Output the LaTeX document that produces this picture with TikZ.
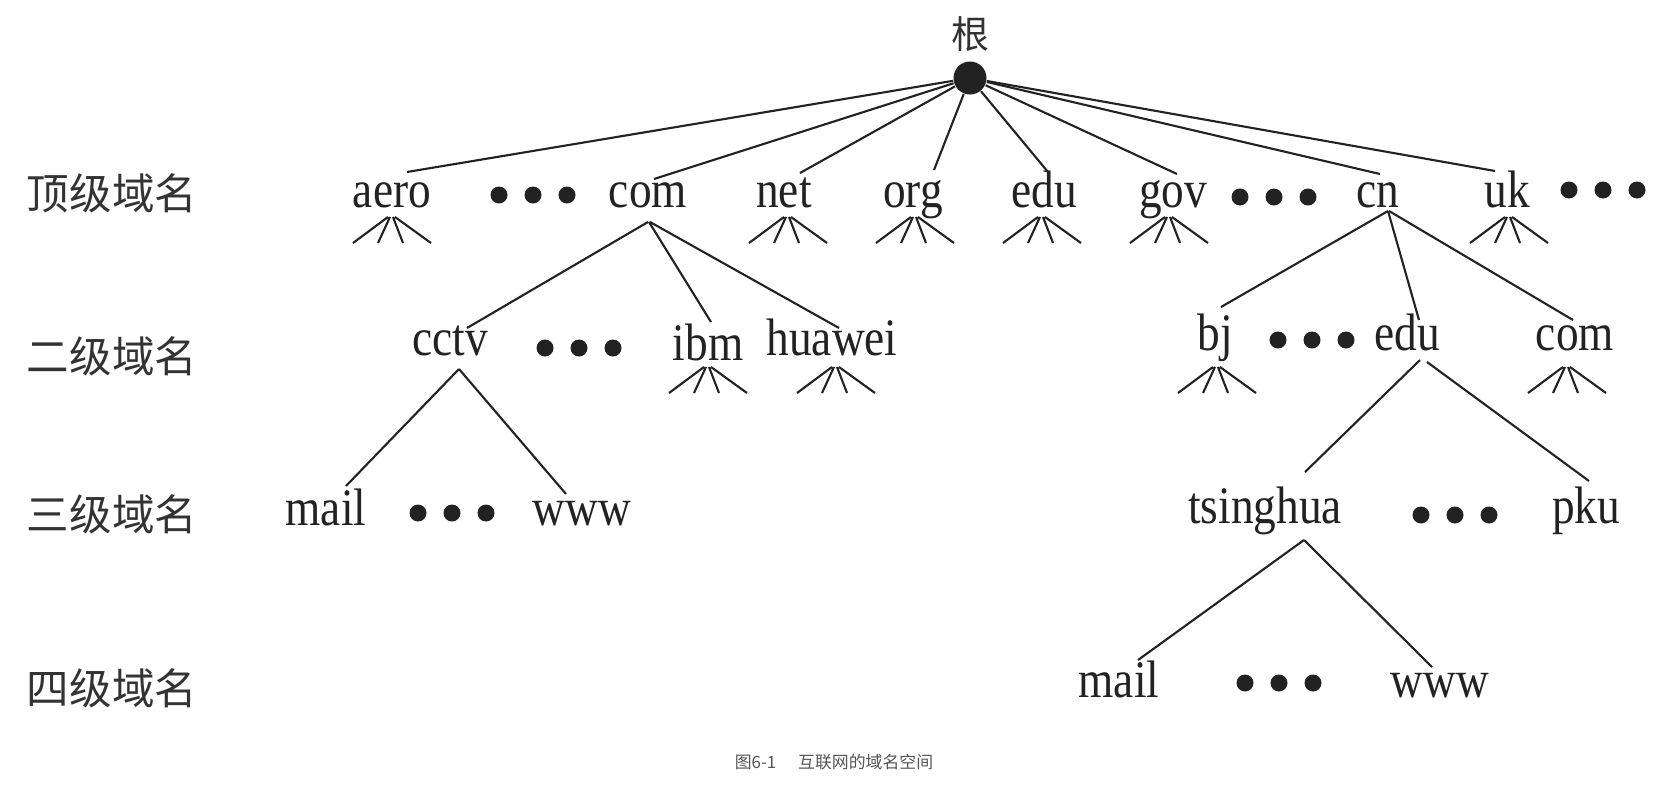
\documentclass[tikz,border=0pt]{standalone}
\usepackage{fontspec}
\usetikzlibrary{calc}
\newfontfamily\domfont[FakeStretch=0.86]{Liberation Serif}
\newfontfamily\cjkfont{Noto Sans CJK SC}
\definecolor{ink}{HTML}{222222}
\definecolor{lvlgray}{HTML}{333333}
\definecolor{capgray}{HTML}{555555}

\tikzset{
  dom/.style={font=\domfont\fontsize{15pt}{17pt}\selectfont, text=ink, inner sep=0pt, anchor=base},
  lvl/.style={font=\cjkfont\fontsize{12.1pt}{14pt}\selectfont, text=lvlgray, inner sep=0pt},
  link/.style={draw=ink, line width=0.6pt},
  fan/.pic={\draw[link] (-3,0) -- (-38,26) (-1,0) -- (-13,26) (2,0) -- (12,26) (4,0) -- (40,26);},
  ellip/.pic={\foreach \dx in {-34,0,34} \fill[ink] (\dx,0) circle[radius=0.85mm];},
}

\begin{document}
\begin{tikzpicture}[x=0.1mm, y=-0.1mm]
    \useasboundingbox (0,0) rectangle (1678,787);

    % Root
    \node[font=\cjkfont\fontsize{10.8pt}{12pt}\selectfont, text=lvlgray, inner sep=0pt] (rootlbl) at (970,34) {根};
    \node[circle, fill=ink, minimum size=3.3mm, inner sep=0pt] (root) at (970,78) {};

    % Level names on the left
    \node[lvl] (lv1) at (112,193) {顶级域名};
    \node[lvl] (lv2) at (112,356) {二级域名};
    \node[lvl] (lv3) at (112,514) {三级域名};
    \node[lvl] (lv4) at (112,688) {四级域名};

    % Top level domains
    \node[dom] (aero) at (392,207) {aero};
    \node[dom] (com) at (648,207) {com};
    \node[dom] (net) at (784,207) {net};
    \node[dom] (org) at (913,207) {org};
    \node[dom] (edu) at (1044,207) {edu};
    \node[dom] (gov) at (1173,207) {gov};
    \node[dom] (cn) at (1378,207) {cn};
    \node[dom] (uk) at (1507,207) {uk};
    \pic at (533,195) {ellip};
    \pic at (1274,197) {ellip};
    \pic at (1603,190) {ellip};

    % Second level domains
    \node[dom] (cctv) at (450,355) {cctv};
    \node[dom] (ibm) at (708,360) {ibm};
    \node[dom] (huawei) at (832,355) {huawei};
    \node[dom] (bj) at (1215,350) {bj};
    \node[dom] (cnedu) at (1407,350) {edu};
    \node[dom] (cncom) at (1575,350) {com};
    \pic at (579,348) {ellip};
    \pic at (1312,340) {ellip};

    % Third level domains
    \node[dom] (mail) at (326,525) {mail};
    \node[dom] (www) at (582,525) {www};
    \node[dom] (tsinghua) at (1265,523) {tsinghua};
    \node[dom] (pku) at (1586,523) {pku};
    \pic at (452,513) {ellip};
    \pic at (1455,515) {ellip};

    % Fourth level domains
    \node[dom] (thmail) at (1119,697) {mail};
    \node[dom] (thwww) at (1440,697) {www};
    \pic at (1279,683) {ellip};

    % Links from the root
    \draw[link] (root) -- ($(aero.base)+(15,-35)$);
    \draw[link] (root) -- ($(com.base)+(6,-28)$);
    \draw[link] (root) -- ($(net.base)+(16,-34)$);
    \draw[link] (root) -- ($(org.base)+(21,-37)$);
    \draw[link] (root) -- ($(edu.base)+(4,-35)$);
    \draw[link] (root) -- ($(gov.base)+(4,-33)$);
    \draw[link] (root) -- ($(cn.base)+(2,-33)$);
    \draw[link] (root) -- ($(uk.base)+(-12,-36)$);

    % Links below com and cn
    \draw[link] ($(com.base)+(0,15)$) -- ($(cctv.base)+(17,-27)$);
    \draw[link] ($(com.base)+(1,15)$) -- ($(ibm.base)+(3,-38)$);
    \draw[link] ($(com.base)+(2,15)$) -- ($(huawei.base)+(7,-27)$);
    \draw[link] ($(cn.base)+(10,4)$) -- ($(bj.base)+(6,-43)$);
    \draw[link] ($(cn.base)+(10,4)$) -- ($(cnedu.base)+(12,-30)$);
    \draw[link] ($(cn.base)+(11,4)$) -- ($(cncom.base)+(-2,-30)$);

    % Links to the third and fourth level
    \draw[link] ($(cctv.base)+(9,14)$) -- ($(mail.base)+(20,-39)$);
    \draw[link] ($(cctv.base)+(9,14)$) -- ($(www.base)+(-16,-31)$);
    \draw[link] ($(cnedu.base)+(13,10)$) -- ($(tsinghua.base)+(40,-51)$);
    \draw[link] ($(cnedu.base)+(20,12)$) -- ($(pku.base)+(3,-42)$);
    \draw[link] ($(tsinghua.base)+(39,17)$) -- ($(thmail.base)+(19,-37)$);
    \draw[link] ($(tsinghua.base)+(39,17)$) -- ($(thwww.base)+(-8,-30)$);

    % Small fans for the subtrees that are left out
    \pic at ($(aero.base)+(-1,10)$) {fan};
    \pic at ($(net.base)+(3,10)$) {fan};
    \pic at ($(org.base)+(1,10)$) {fan};
    \pic at ($(edu.base)+(-3,10)$) {fan};
    \pic at ($(gov.base)+(-5,10)$) {fan};
    \pic at ($(uk.base)+(1,10)$) {fan};
    \pic at ($(ibm.base)+(-1,7)$) {fan};
    \pic at ($(huawei.base)+(3,12)$) {fan};
    \pic at ($(bj.base)+(1,17)$) {fan};
    \pic at ($(cncom.base)+(-9,17)$) {fan};

    % Caption
    \node[font=\cjkfont\fontsize{4.8pt}{6pt}\selectfont, text=capgray, inner sep=0pt] (caption) at (834,762) {图6-1\hspace{1.3em}互联网的域名空间};

\end{tikzpicture}
\end{document}
